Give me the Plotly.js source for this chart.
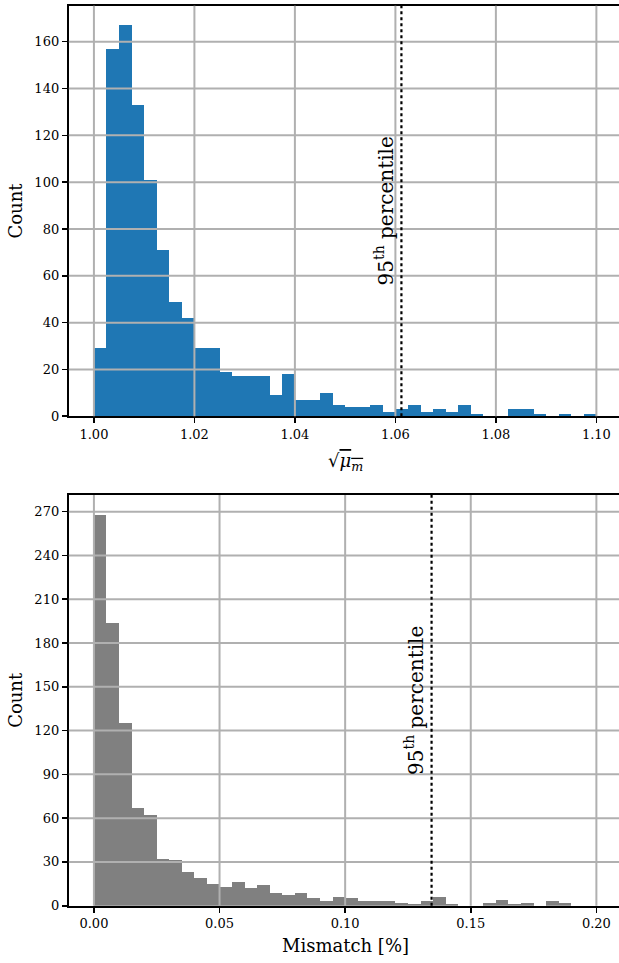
<!DOCTYPE html>
<html>
<head>
<meta charset="utf-8">
<script src="https://cdn.plot.ly/plotly-3.0.1.min.js"></script>
<style>
html,body{margin:0;padding:0;overflow:hidden;background:#fff;}
#chart{width:625px;height:963px;}
</style>
</head>
<body>
<div id="chart"></div>
<script>
// ---- Data ----
// Top histogram: sqrt(mu_m), 40 bins of 0.0025 starting at 1.000
const topBinStart = 1.0;
const topBinWidth = 0.0025;
const topCounts = [29,157,167,133,101,71,49,42,29,29,19,17,17,17,9,18,7,7,10,5,4,4,5,2,3,5,2,3,2,5,1,0,0,3,3,1,0,1,0,1];
const topPercentile = 1.0612;
const topXTicks = [1.00,1.02,1.04,1.06,1.08,1.10];
const topYTicks = [0,20,40,60,80,100,120,140,160];

// Bottom histogram: Mismatch [%], 40 bins of 0.005 starting at 0
const botBinStart = 0.0;
const botBinWidth = 0.005;
const botCounts = [268,194,125,67,62,32,31,23,19,15,13,16,12,14,9,7,9,5,3,6,5,3,3,3,2,1,3,6,1,0,0,2,4,1,2,0,3,2,0,0];
const botPercentile = 0.1344;
const botXTicks = [0.00,0.05,0.10,0.15,0.20];
const botYTicks = [0,30,60,90,120,150,180,210,240,270];

const percentileLabel = "95<sup>th</sup> percentile";
const topXTitle = '√<span style="text-decoration:overline"><i>μ</i><sub><i>m</i></sub></span>';
const botXTitle = 'Mismatch [%]';
const yTitle = 'Count';

// ---- Build ----
const W = 625, H = 963;
const FONT = '"DejaVu Serif", serif';
const GRID = "#b0b0b0";

function centers(start, w, n){ const a=[]; for(let i=0;i<n;i++) a.push(start+(i+0.5)*w); return a; }

const traces = [
  {type:'bar', x:centers(topBinStart,topBinWidth,topCounts.length), y:topCounts, width:topBinWidth,
   marker:{color:'#1f77b4', line:{width:0}}, xaxis:'x', yaxis:'y', hoverinfo:'skip'},
  {type:'bar', x:centers(botBinStart,botBinWidth,botCounts.length), y:botCounts, width:botBinWidth,
   marker:{color:'#808080', line:{width:0}}, xaxis:'x2', yaxis:'y2', hoverinfo:'skip'}
];

function topRange(counts){ return Math.max(...counts)*1.05; }
function xRange(start,w,n){ const span=w*n; return [start-0.05*span, start+span+0.05*span]; }

const xl = 68.8/W, xr = 621.5/W;
const topDom = [(H-416.3)/H, (H-5.7)/H];
const botDom = [(H-905.7)/H, (H-495)/H];

const axBase = {
  showline:true, mirror:true, linecolor:'#000', linewidth:2,
  ticks:'outside', ticklen:5, tickwidth:1.6, tickcolor:'#000',
  showgrid:false, zeroline:false,
  tickfont:{family:FONT, size:13, color:'#000'}
};

const shapes = [];
function gridShapes(xaxis, yaxis, xticks, yticks, yr){
  xticks.forEach(v=>shapes.push({type:'line', layer:'above', xref:xaxis, yref:yaxis+' domain', x0:v, x1:v, y0:0, y1:1,
    line:{color:GRID, width:2}}));
  yticks.filter(v=>v>yr[0]).forEach(v=>shapes.push({type:'line', layer:'above', xref:xaxis+' domain', yref:yaxis, x0:0, x1:1, y0:v, y1:v,
    line:{color:GRID, width:2}}));
}
const topYR = [0, topRange(topCounts)];
const botYR = [0, topRange(botCounts)];
gridShapes('x','y',topXTicks,topYTicks,topYR);
gridShapes('x2','y2',botXTicks,botYTicks,botYR);
shapes.push({type:'line', layer:'above', xref:'x', yref:'y domain', x0:topPercentile, x1:topPercentile, y0:0, y1:1,
  line:{color:'#000', width:2.2, dash:'dot'}});
shapes.push({type:'line', layer:'above', xref:'x2', yref:'y2 domain', x0:botPercentile, x1:botPercentile, y0:0, y1:1,
  line:{color:'#000', width:2.2, dash:'dot'}});

const titleFont = {family:FONT, size:18, color:'#000'};
const annotations = [
  {xref:'x', yref:'y domain', x:topPercentile, y:0.5, xanchor:'right', yanchor:'middle', xshift:-2,
   text:percentileLabel, textangle:-90, showarrow:false, font:{family:FONT, size:20, color:'#000'}},
  {xref:'x2', yref:'y2 domain', x:botPercentile, y:0.5, xanchor:'right', yanchor:'middle', xshift:-2,
   text:percentileLabel, textangle:-90, showarrow:false, font:{family:FONT, size:20, color:'#000'}},
  {xref:'x domain', yref:'paper', x:(345-68.8)/(621.5-68.8), y:1-462/H, xanchor:'center', yanchor:'middle',
   text:topXTitle, showarrow:false, font:titleFont},
  {xref:'x2 domain', yref:'paper', x:(345-68.8)/(621.5-68.8), y:1-945/H, xanchor:'center', yanchor:'middle',
   text:botXTitle, showarrow:false, font:titleFont}
];

const layout = {
  width:W, height:H, margin:{l:0,r:0,t:0,b:0}, paper_bgcolor:'#fff', plot_bgcolor:'#fff',
  showlegend:false, bargap:0, barmode:'overlay',
  xaxis: Object.assign({}, axBase, {domain:[xl,xr], anchor:'y', range:xRange(topBinStart,topBinWidth,topCounts.length),
    tickvals:topXTicks, tickformat:'.2f'}),
  yaxis: Object.assign({}, axBase, {domain:topDom, anchor:'x', range:topYR, tickvals:topYTicks,
    title:{text:yTitle, font:titleFont}}),
  xaxis2: Object.assign({}, axBase, {domain:[xl,xr], anchor:'y2', range:xRange(botBinStart,botBinWidth,botCounts.length),
    tickvals:botXTicks, tickformat:'.2f'}),
  yaxis2: Object.assign({}, axBase, {domain:botDom, anchor:'x2', range:botYR, tickvals:botYTicks,
    title:{text:yTitle, font:titleFont}}),
  shapes, annotations
};

Plotly.newPlot('chart', traces, layout, {staticPlot:true, displayModeBar:false});
</script>
</body>
</html>
